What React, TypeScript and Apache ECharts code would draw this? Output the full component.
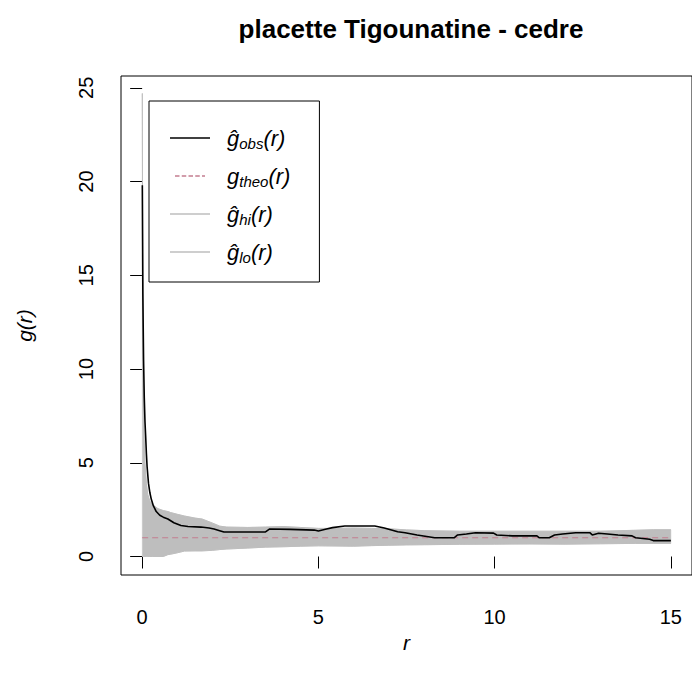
import React, { useEffect, useRef } from "react";
import * as echarts from "echarts";

const titleText = "placette Tigounatine - cedre";
const xTicks = [0, 5, 10, 15];
const yTicks = [0, 5, 10, 15, 20, 25];

// observed pair correlation g_obs(r)
const rObs = [0.005, 0.02, 0.04, 0.06, 0.08, 0.1, 0.12, 0.14, 0.18, 0.22, 0.26, 0.32, 0.4, 0.5, 0.6, 0.73, 0.9, 1.1, 1.3, 1.67, 1.9, 2.04, 2.2, 2.32, 3.5, 3.62, 4.2, 4.88, 5.0, 5.2, 5.4, 5.75, 6.6, 6.87, 7.25, 7.46, 7.8, 8.3, 8.85, 8.95, 9.2, 9.46, 9.97, 10.06, 10.5, 11.2, 11.27, 11.55, 11.7, 11.93, 12.3, 12.7, 12.77, 12.95, 13.2, 13.5, 13.9, 14.0, 14.4, 14.5, 15.0];
const gObs = [19.8, 14, 10.5, 8.5, 7.2, 6.4, 5.5, 4.8, 3.9, 3.4, 3.05, 2.7, 2.4, 2.2, 2.1, 2.0, 1.8, 1.65, 1.6, 1.57, 1.52, 1.47, 1.38, 1.31, 1.31, 1.47, 1.45, 1.41, 1.36, 1.45, 1.54, 1.63, 1.63, 1.52, 1.32, 1.27, 1.15, 1.0, 1.0, 1.15, 1.2, 1.27, 1.25, 1.15, 1.1, 1.1, 1.0, 1.0, 1.15, 1.2, 1.27, 1.27, 1.15, 1.24, 1.2, 1.15, 1.1, 1.0, 0.92, 0.85, 0.85];

// simulation envelope
const rBand = [0.005, 0.015, 0.03, 0.05, 0.08, 0.12, 0.16, 0.22, 0.3, 0.45, 0.6, 0.73, 0.8, 1.0, 1.2, 1.5, 1.7, 2.0, 2.2, 2.4, 3.0, 3.5, 4.0, 4.5, 5.0, 5.5, 6.0, 6.5, 7.0, 7.5, 8.0, 9, 10, 11, 12, 13, 14, 14.5, 15];
const gHi = [24.7, 16, 10, 6.8, 5.0, 3.9, 3.3, 2.95, 2.75, 2.55, 2.45, 2.4, 2.35, 2.25, 2.16, 2.05, 2.0, 1.78, 1.62, 1.57, 1.55, 1.57, 1.6, 1.55, 1.5, 1.5, 1.52, 1.5, 1.48, 1.42, 1.38, 1.35, 1.35, 1.35, 1.35, 1.35, 1.4, 1.43, 1.43];
const gLo = [0, 0, 0, 0, 0, 0, 0, 0, 0, 0, 0, 0.1, 0.12, 0.2, 0.29, 0.3, 0.3, 0.33, 0.37, 0.4, 0.45, 0.5, 0.52, 0.55, 0.57, 0.56, 0.55, 0.58, 0.6, 0.62, 0.63, 0.65, 0.66, 0.67, 0.66, 0.68, 0.7, 0.7, 0.7];

// theoretical (Poisson) value
const rTheo = [0, 15];
const gTheo = [1, 1];

const legendLabels: Record<string, string> = {
  obs: "{sp| }{h|ĝ}{s|obs}{h|(r)}",
  theo: "{sp| }{h|g}{s|theo}{h|(r)}",
  hi: "{sp| }{h|ĝ}{s|hi}{h|(r)}",
  lo: "{sp| }{h|ĝ}{s|lo}{h|(r)}",
};

const FONT = "'Liberation Sans', Arial, Helvetica, sans-serif";
const BAND = "#bebebe";
const THEO = "#c47d90";

export default function App() {
  const ref = useRef<HTMLDivElement>(null);
  useEffect(() => {
    if (!ref.current) return;
    const chart = echarts.init(ref.current, undefined, { renderer: "svg" });
    const dashIcon = "path://M0,0h6v2h-6zM9,0h6v2h-6zM18,0h6v2h-6zM27,0h6v2h-6zM36,0h4v2h-4z";
    const bandData = rBand.map((r, i) => [r, gLo[i], gHi[i]]);
    chart.setOption({
      animation: false,
      backgroundColor: "#fff",
      title: {
        text: titleText,
        left: 406,
        textAlign: "center",
        top: 11,
        textStyle: { fontSize: 26, fontWeight: "bold", fontFamily: FONT, color: "#000" },
      },
      legend: {
        orient: "vertical",
        left: 149,
        top: 101,
        padding: [26, 29, 17, 21],
        itemGap: 14,
        itemWidth: 40,
        itemHeight: 1.5,
        borderColor: "#000",
        borderWidth: 1,
        selectedMode: false,
        data: [
          { name: "obs", icon: "rect" },
          { name: "theo", icon: dashIcon },
          { name: "hi", icon: "rect" },
          { name: "lo", icon: "rect" },
        ],
        formatter: (name: string) => legendLabels[name],
        textStyle: {
          color: "#000",
          fontFamily: FONT,
          rich: {
            sp: { width: 12, fontSize: 22, lineHeight: 26 },
            h: { fontSize: 22, fontStyle: "italic", fontFamily: FONT, lineHeight: 26, color: "#000" },
            s: { fontSize: 15, fontStyle: "italic", fontFamily: FONT, lineHeight: 15, verticalAlign: "bottom", color: "#000" },
          },
        },
      },
      grid: {
        left: 121,
        top: 76,
        width: 580,
        height: 499,
        show: true,
        borderColor: "#000",
        borderWidth: 1,
        backgroundColor: "transparent",
      },
      xAxis: {
        type: "value",
        min: -0.6,
        max: 15.6,
        name: "r",
        nameLocation: "middle",
        nameGap: 56,
        nameTextStyle: { fontSize: 21, fontStyle: "italic", fontFamily: FONT, color: "#000" },
        axisLine: { show: false },
        splitLine: { show: false },
        axisTick: { show: true, customValues: xTicks, length: 12, lineStyle: { color: "#000", width: 1 } },
        axisLabel: { customValues: xTicks, margin: 32, fontSize: 20, fontFamily: FONT, color: "#000" },
      },
      yAxis: {
        type: "value",
        min: -0.986,
        max: 25.63,
        name: "g(r)",
        nameLocation: "middle",
        nameGap: 86,
        nameTextStyle: { fontSize: 21, fontStyle: "italic", fontFamily: FONT, color: "#000" },
        axisLine: { show: false },
        splitLine: { show: false },
        axisTick: { show: true, customValues: yTicks, length: 12, lineStyle: { color: "#000", width: 1 } },
        axisLabel: { customValues: yTicks, rotate: 90, margin: 25, fontSize: 20, fontFamily: FONT, color: "#000" },
      },
      series: [
        {
          name: "envelope",
          type: "custom",
          data: bandData,
          encode: { x: 0, y: [1, 2] },
          clip: true,
          z: 1,
          renderItem: (params: any, api: any) => {
            if (params.dataIndex !== 0) return null;
            const upper = bandData.map((d) => api.coord([d[0], d[2]]));
            const lower = bandData.map((d) => api.coord([d[0], d[1]])).reverse();
            return {
              type: "polygon",
              shape: { points: upper.concat(lower) },
              style: { fill: BAND, stroke: BAND, lineWidth: 0.5 },
            };
          },
        },
        {
          name: "hi",
          type: "line",
          symbol: "none",
          data: rBand.map((r, i) => [r, gHi[i]]),
          lineStyle: { color: BAND, width: 1 },
          itemStyle: { color: BAND },
          z: 1,
        },
        {
          name: "lo",
          type: "line",
          symbol: "none",
          data: rBand.map((r, i) => [r, gLo[i]]),
          lineStyle: { color: BAND, width: 1 },
          itemStyle: { color: BAND },
          z: 1,
        },
        {
          name: "theo",
          type: "line",
          symbol: "none",
          data: rTheo.map((r, i) => [r, gTheo[i]]),
          lineStyle: { color: THEO, width: 1.2, type: [6, 4] },
          itemStyle: { color: THEO },
          z: 2,
        },
        {
          name: "obs",
          type: "line",
          symbol: "none",
          data: rObs.map((r, i) => [r, gObs[i]]),
          lineStyle: { color: "#000", width: 1.6 },
          itemStyle: { color: "#000" },
          z: 3,
        },
      ],
    });
    return () => chart.dispose();
  }, []);
  return (
    <div
      ref={ref}
      style={{ position: "absolute", left: 0, top: 0, width: 692, height: 678, overflow: "hidden" }}
    />
  );
}
